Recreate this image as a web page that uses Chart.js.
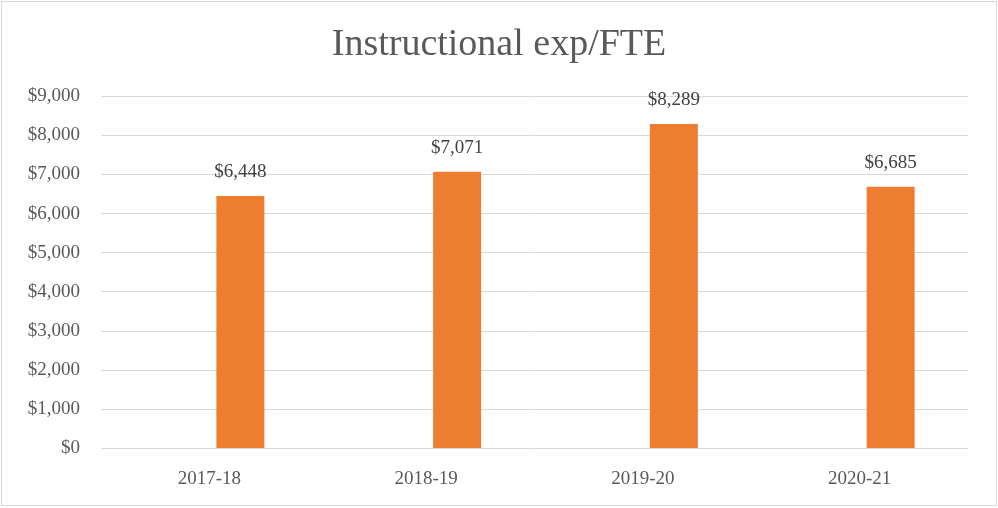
<!DOCTYPE html>
<html>
<head>
<meta charset="utf-8">
<script src="https://cdn.jsdelivr.net/npm/chart.js@4/dist/chart.umd.min.js"></script>
<style>
  html, body { margin: 0; padding: 0; background: #fff; }
  #wrap { width: 998px; height: 508px; }
</style>
</head>
<body>
<div id="wrap"><canvas id="chart"></canvas></div>
<script>
const years = ['2017-18', '2018-19', '2019-20', '2020-21'];
const expPerFte = [6448, 7071, 8289, 6685];
// the source chart has an empty first series, which pushes the bars right of the category centre
const emptySeries = [null, null, null, null];
const chartTitle = 'Instructional exp/FTE';

const money = (v) => '$' + v.toLocaleString('en-US');
const serif = '"Liberation Serif", serif';

// border around the whole chart
const frame = {
  id: 'frame',
  beforeDraw(chart) {
    const ctx = chart.ctx;
    ctx.save();
    ctx.fillStyle = '#fff';
    ctx.fillRect(0, 0, chart.width, chart.height);
    ctx.strokeStyle = '#d9d9d9';
    ctx.lineWidth = 1;
    ctx.strokeRect(1.5, 1.5, chart.width - 3, chart.height - 4);
    ctx.restore();
  }
};

// value labels above each bar
const barLabels = {
  id: 'barLabels',
  afterDatasetsDraw(chart) {
    const ctx = chart.ctx;
    const meta = chart.getDatasetMeta(1);
    ctx.save();
    ctx.font = '19px ' + serif;
    ctx.fillStyle = '#404040';
    ctx.textAlign = 'center';
    ctx.textBaseline = 'middle';
    meta.data.forEach((bar, i) => {
      ctx.fillText(money(expPerFte[i]), bar.x, bar.y - 24);
    });
    ctx.restore();
  }
};

new Chart(document.getElementById('chart'), {
  type: 'bar',
  data: {
    labels: years,
    datasets: [
      {
        data: emptySeries,
        backgroundColor: 'transparent',
        categoryPercentage: 0.572,
        barPercentage: 0.774
      },
      {
        data: expPerFte,
        backgroundColor: '#ed7d31',
        categoryPercentage: 0.572,
        barPercentage: 0.774
      }
    ]
  },
  options: {
    responsive: true,
    maintainAspectRatio: false,
    animation: false,
    layout: { padding: 0 },
    plugins: {
      legend: { display: false },
      tooltip: { enabled: false },
      title: {
        display: true,
        text: chartTitle,
        color: '#595959',
        font: { family: serif, size: 38, weight: 'normal' },
        padding: { top: 22, bottom: 28.5 }
      }
    },
    scales: {
      x: {
        grid: { display: false },
        border: { display: false },
        ticks: {
          color: '#595959',
          font: { family: serif, size: 19 },
          padding: 11
        },
        afterFit(scale) { scale.height = 59.5; }
      },
      y: {
        min: 0,
        max: 9000,
        grid: { color: '#d9d9d9', lineWidth: 1, drawTicks: false },
        border: { display: false },
        ticks: {
          stepSize: 1000,
          color: '#595959',
          font: { family: serif, size: 19 },
          padding: 21,
          callback: (v) => money(v)
        },
        afterFit(scale) { scale.width = 101; }
      },
      // blank right-hand spacer so the title stays centred on the whole chart
      yRight: {
        position: 'right',
        min: 0,
        max: 9000,
        grid: { display: false },
        border: { display: false },
        ticks: { display: false },
        afterFit(scale) { scale.width = 30; }
      }
    }
  },
  plugins: [frame, barLabels]
});
</script>
</body>
</html>
